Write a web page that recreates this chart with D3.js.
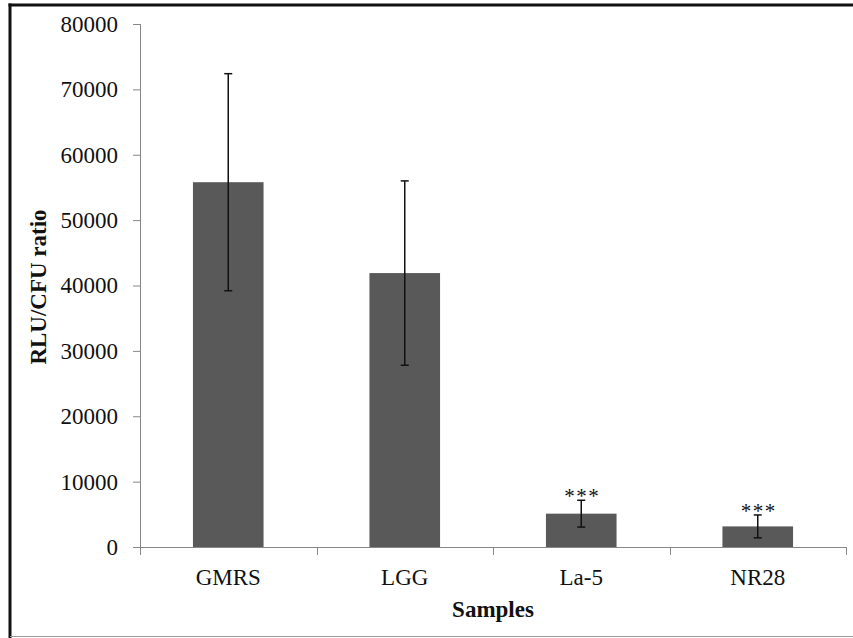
<!DOCTYPE html>
<html>
<head>
<meta charset="utf-8">
<script src="https://cdn.jsdelivr.net/npm/d3@7/dist/d3.min.js"></script>
<style>
  html, body { margin: 0; padding: 0; background: #fff; }
  svg { display: block; }
  text { font-family: "Liberation Serif", "Times New Roman", serif; fill: #111; }
</style>
</head>
<body>
<script>
// Samples and their mean RLU/CFU ratio with standard deviation
const categories = ["GMRS", "LGG", "La-5", "NR28"];
const means = [55800, 41900, 5100, 3150];
const errors = [16600, 14100, 2050, 1750];
const significance = ["", "", "***", "***"];
const yTicks = [0, 10000, 20000, 30000, 40000, 50000, 60000, 70000, 80000];

const W = 853, H = 638;
const plot = { left: 140, right: 846, top: 24, bottom: 547 };

const svg = d3.select("body").append("svg")
  .attr("width", W).attr("height", H);

svg.append("rect").attr("width", W).attr("height", H).attr("fill", "#fff");

// Outer frame: heavy top/left rules, light bottom rule
svg.append("line").attr("x1", 8.5).attr("x2", W).attr("y1", 5).attr("y2", 5)
  .attr("stroke", "#111").attr("stroke-width", 3);
svg.append("line").attr("x1", 10).attr("x2", 10).attr("y1", 3.5).attr("y2", H)
  .attr("stroke", "#111").attr("stroke-width", 3);
svg.append("line").attr("x1", 10).attr("x2", W).attr("y1", 636.5).attr("y2", 636.5)
  .attr("stroke", "#9a9a9a").attr("stroke-width", 1);

const x = d3.scaleBand()
  .domain(categories)
  .range([plot.left, plot.right])
  .paddingInner(0.6).paddingOuter(0.3);

const xOuter = d3.scaleBand().domain(categories).range([plot.left, plot.right]);

const y = d3.scaleLinear().domain([0, 80000]).range([plot.bottom, plot.top]);

const axisColor = "#878787";

// Y axis
const yAxis = svg.append("g")
  .attr("transform", `translate(${plot.left},0)`)
  .call(d3.axisLeft(y).tickValues(yTicks).tickSize(7).tickPadding(15).tickFormat(d3.format("d")));
yAxis.select(".domain").attr("stroke", axisColor).attr("d", `M0.5,${plot.top}V${plot.bottom}`);
yAxis.selectAll(".tick line").attr("stroke", axisColor);
yAxis.selectAll(".tick text")
  .style("font-size", "23px").style("font-family", "'Liberation Serif', serif").attr("fill", "#111");

// X axis with boundary ticks between categories
const xg = svg.append("g").attr("transform", `translate(0,${plot.bottom})`);
xg.append("line").attr("x1", plot.left).attr("x2", plot.right).attr("y1", 0.5).attr("y2", 0.5)
  .attr("stroke", axisColor);
const bounds = [plot.left].concat(categories.map(c => xOuter(c) + xOuter.bandwidth()));
xg.selectAll("line.bound").data(bounds).join("line").attr("class", "bound")
  .attr("x1", d => Math.round(d) + 0.5).attr("x2", d => Math.round(d) + 0.5)
  .attr("y1", 0).attr("y2", 8).attr("stroke", axisColor);
xg.selectAll("text.cat").data(categories).join("text").attr("class", "cat")
  .attr("x", d => xOuter(d) + xOuter.bandwidth() / 2)
  .attr("y", 38)
  .attr("text-anchor", "middle")
  .style("font-size", "23px")
  .text(d => d);

// Bars
svg.selectAll("rect.bar").data(categories).join("rect").attr("class", "bar")
  .attr("x", d => x(d))
  .attr("width", x.bandwidth())
  .attr("y", (d, i) => y(means[i]))
  .attr("height", (d, i) => y(0) - y(means[i]))
  .attr("fill", "#595959");

// Error bars
const eb = svg.selectAll("g.err").data(categories).join("g").attr("class", "err");
eb.append("line")
  .attr("x1", d => x(d) + x.bandwidth() / 2).attr("x2", d => x(d) + x.bandwidth() / 2)
  .attr("y1", (d, i) => y(means[i] + errors[i])).attr("y2", (d, i) => y(means[i] - errors[i]))
  .attr("stroke", "#111").attr("stroke-width", 1.5);
[1, -1].forEach(s => {
  eb.append("line")
    .attr("x1", d => x(d) + x.bandwidth() / 2 - 4).attr("x2", d => x(d) + x.bandwidth() / 2 + 4)
    .attr("y1", (d, i) => y(means[i] + s * errors[i])).attr("y2", (d, i) => y(means[i] + s * errors[i]))
    .attr("stroke", "#111").attr("stroke-width", 1.5);
});

// Significance markers
svg.selectAll("text.sig").data(categories).join("text").attr("class", "sig")
  .attr("x", d => x(d) + x.bandwidth() / 2 + 1)
  .attr("y", (d, i) => y(means[i] + errors[i]) + 3)
  .attr("text-anchor", "middle")
  .style("font-size", "21px")
  .style("letter-spacing", "1.5px")
  .attr("fill", "#333")
  .text((d, i) => significance[i]);

// Axis titles
svg.append("text")
  .attr("x", (plot.left + plot.right) / 2).attr("y", 617)
  .attr("text-anchor", "middle")
  .style("font-size", "23px").style("font-weight", "bold")
  .text("Samples");

svg.append("text")
  .attr("transform", `translate(46,287) rotate(-90)`)
  .attr("text-anchor", "middle")
  .style("font-size", "23px").style("font-weight", "bold")
  .text("RLU/CFU ratio");
</script>
</body>
</html>
